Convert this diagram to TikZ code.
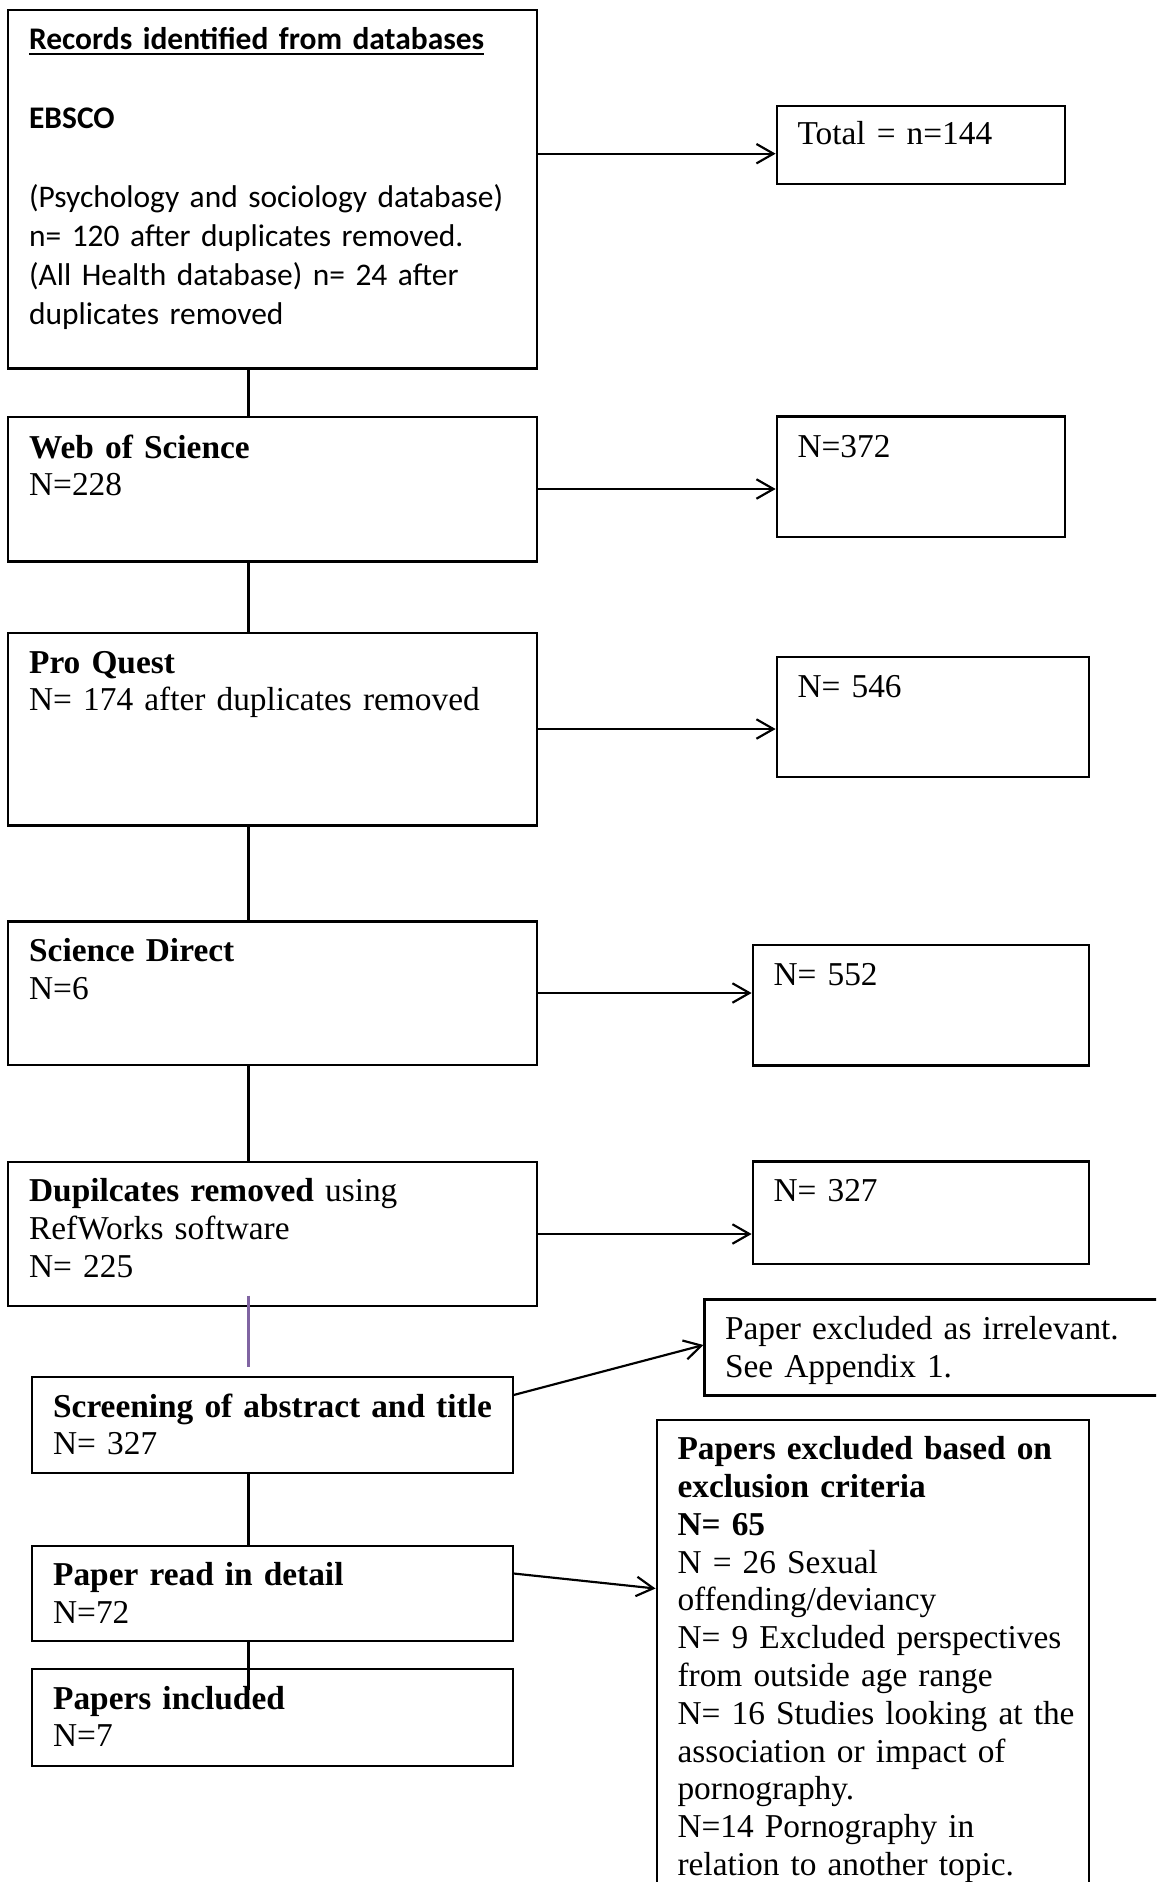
\documentclass[tikz,border=0pt]{standalone}
\usepackage{fontspec}
\setmainfont{Liberation Serif}[Scale=1.03, WordSpace=0.8]
\newfontfamily\calfont{Carlito}
\usetikzlibrary{fit,arrows.meta}
\definecolor{wordpurple}{RGB}{128,100,162}
\begin{document}
\begin{tikzpicture}[x=0.3704pt,y=-0.3704pt,
  box/.style={draw, line width=0.8pt, inner sep=0pt},
  txt/.style={inner sep=0pt, anchor=base west, text width=230pt, align=left, font=\fontsize{12}{14}\selectfont},
  caltxt/.style={txt, font=\calfont\fontsize{11.65}{14.55}\selectfont},
  link/.style={line width=0.8pt},
  arr/.style={line width=0.8pt, -{Straight Barb[length=6.3pt,width=7.2pt]}},
  plink/.style={line width=0.8pt, draw=wordpurple}]
\useasboundingbox (0,0) rectangle (1156,1882);
\clip (0,0) rectangle (1156,1882);
\fill[white] (0,0) rectangle (1156,1882);
% left column boxes
\node[box, fit={(8.4,9.6) (536.6,368.5)}] (b1) {};
\node[box, fit={(8.4,417) (536.6,561.5)}] (b2) {};
\node[box, fit={(8.4,633) (536.6,825.5)}] (b3) {};
\node[box, fit={(8.4,921.5) (536.6,1065.2)}] (b4) {};
\node[box, fit={(8.4,1161.7) (536.6,1305.7)}] (b5) {};
\node[box, fit={(32.4,1377.3) (512.6,1473.3)}] (scr) {};
\node[box, fit={(32.4,1545.7) (512.6,1641)}] (pr) {};
\node[box, fit={(32.4,1669.3) (512.6,1765.7)}] (inc) {};
% right column boxes
\node[box, fit={(776.7,105.6) (1064.8,184.3)}] (r1) {};
\node[box, fit={(776.7,416.5) (1064.8,536.6)}] (r2) {};
\node[box, fit={(776.7,657) (1088.8,776.7)}] (r3) {};
\node[box, fit={(752.7,945) (1088.8,1065.5)}] (r4) {};
\node[box, fit={(752.7,1161.5) (1088.8,1264)}] (r5) {};
\node[box, fit={(704.5,1299.5) (1175,1395.5)}] (irr) {};
\node[box, fit={(656.6,1420) (1088.8,1900)}] (exc) {};
% texts
\node[caltxt] (t1) at (28.6,50) {\underline{\textbf{Records identified from databases}}\\[14.55pt]
\textbf{EBSCO}\\[14.55pt]
(Psychology and sociology database)\\
n= 120 after duplicates removed.\\
(All Health database) n= 24 after\\
duplicates removed};
\node[txt] (t2) at (28.6,458) {\textbf{Web of Science}\\N=228};
\node[txt] (t3) at (28.6,673) {\textbf{Pro Quest}\\N= 174 after duplicates removed};
\node[txt] (t4) at (28.6,961.7) {\textbf{Science Direct}\\N=6};
\node[txt] (t5) at (28.6,1201.7) {\textbf{Dupilcates removed} using\\RefWorks software\\N= 225};
\node[txt] (tscr) at (52.6,1417) {\textbf{Screening of abstract and title}\\N= 327};
\node[txt] (tpr) at (52.6,1585.5) {\textbf{Paper read in detail}\\N=72};
\node[txt] (tinc) at (52.6,1709) {\textbf{Papers included}\\N=7};
\node[txt] (tr1) at (797,145) {Total = n=144};
\node[txt] (tr2) at (797,457.5) {N=372};
\node[txt] (tr3) at (797,697.3) {N= 546};
\node[txt] (tr4) at (773,985) {N= 552};
\node[txt] (tr5) at (773,1201.7) {N= 327};
\node[txt] (tirr) at (724.5,1339.5) {Paper excluded as irrelevant.\\See Appendix 1.};
\node[txt] (texc) at (677,1459.7) {\textbf{Papers excluded based on}\\
\textbf{exclusion criteria}\\
\textbf{N= 65}\\
N = 26 Sexual\\
offending/deviancy\\
N= 9 Excluded perspectives\\
from outside age range\\
N= 16 Studies looking at the\\
association or impact of\\
pornography.\\
N=14 Pornography in\\
relation to another topic.};
% helper coordinates
\coordinate (cx) at (248.5,0);
\coordinate (a1) at (0,153.7);
\coordinate (a2) at (0,489);
\coordinate (a3) at (0,729);
\coordinate (a4) at (0,993);
\coordinate (a5) at (0,1234);
\coordinate (ps) at (248.5,1295.5);
\coordinate (pe) at (248.5,1367);
\coordinate (incend) at (248.5,1690);
\coordinate (s1) at (0,1395);
\coordinate (e1) at (0,1345);
\coordinate (s2) at (0,1573.5);
\coordinate (e2) at (0,1588.5);
% vertical links
\draw[link] (b1.south -| cx) -- (b2.north -| cx);
\draw[link] (b2.south -| cx) -- (b3.north -| cx);
\draw[link] (b3.south -| cx) -- (b4.north -| cx);
\draw[link] (b4.south -| cx) -- (b5.north -| cx);
\draw[plink] (ps) -- (pe);
\draw[link] (scr.south -| cx) -- (pr.north -| cx);
\draw[link] (pr.south -| cx) -- (incend);
% arrows
\draw[arr] (b1.east |- a1) -- (r1.west |- a1);
\draw[arr] (b2.east |- a2) -- (r2.west |- a2);
\draw[arr] (b3.east |- a3) -- (r3.west |- a3);
\draw[arr] (b4.east |- a4) -- (r4.west |- a4);
\draw[arr] (b5.east |- a5) -- (r5.west |- a5);
\draw[arr] (scr.east |- s1) -- (irr.west |- e1);
\draw[arr] (pr.east |- s2) -- (exc.west |- e2);
\end{tikzpicture}
\end{document}
